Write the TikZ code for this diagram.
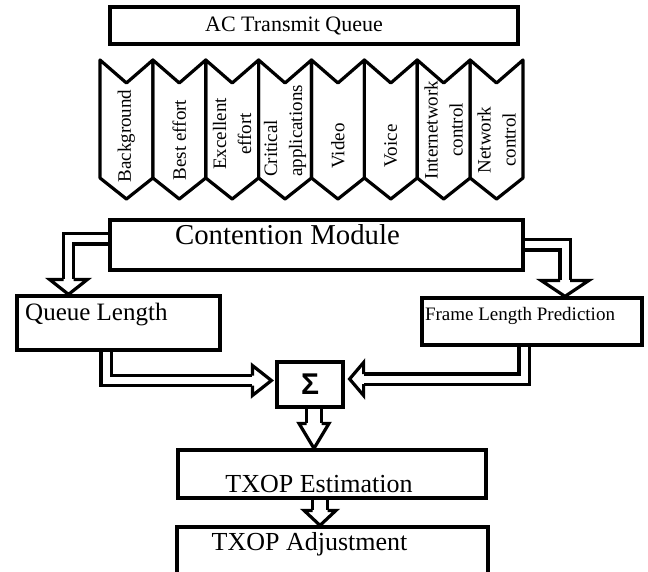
\documentclass[tikz,border=0pt]{standalone}
\usepackage{fontspec}
\setmainfont{Liberation Serif}
\setsansfont{Liberation Sans}
\usetikzlibrary{backgrounds}
\tikzset{
  box/.style={draw, fill=white, line width=3.2pt, line join=miter, inner sep=0pt},
  txt/.style={font=\fontsize{#1}{#1}\selectfont, inner sep=0pt},
  coltxt/.style={font=\fontsize{19}{25}\selectfont, inner sep=0pt, rotate=90},
  shaft/.style={draw, line width=3.2pt, double=white, double distance=#1, line join=miter},
  pics/hhead/.style n args={3}{code={
    \filldraw[fill=white, draw=black, line width=3.2pt, line join=miter]
      (-#1,#3) -- (-#1,#2) -- (0,0) -- (-#1,-#2) -- (-#1,-#3);}}
}
\begin{document}
\begin{tikzpicture}[x=1pt, y=1pt, line join=round, line cap=butt]
    \useasboundingbox (0,0) rectangle (648,-572);
    \def\cx{100} \def\cw{52.875}
    % top queue
    \node[box, minimum width=408, minimum height=37] (acq) at (314,-25.5) {};
    \node[txt=22, anchor=base] (acqtext) at (294,-32) {AC Transmit Queue};
    % access categories
    \foreach \i in {0,...,7}
      \draw[line width=3.2pt] ({\cx+\i*\cw},-60) -- ({\cx+(\i+0.5)*\cw},-83) -- ({\cx+(\i+1)*\cw},-60)
        -- ({\cx+(\i+1)*\cw},-178) -- ({\cx+(\i+0.5)*\cw},-199) -- ({\cx+\i*\cw},-178) -- cycle;
    \foreach \i/\lbl/\yc/\al in {0/Background/136/center, 1/Best effort/140/center,
        2/{Excellent\\effort}/134/center, 3/{Critical\\applications}/131/left,
        4/Video/146/center, 5/Voice/146/center, 6/{Internetwork\\control}/130/center,
        7/{Network\\control}/140/center}
      \node[coltxt, align=\al] (ac\i) at ({\cx+(\i+0.5)*\cw},-\yc) {\lbl};
    % modules
    \node[box, minimum width=413, minimum height=50] (cm) at (316.5,-245) {};
    \node[txt=28.8, anchor=base] (cmtext) at (287.5,-245) {Contention Module};
    \node[box, minimum width=203, minimum height=54] (ql) at (118.5,-323) {};
    \node[txt=25, anchor=base west] (qltext) at (25,-320) {Queue Length};
    \node[box, minimum width=220, minimum height=47] (flp) at (532,-321.5) {};
    \node[txt=19, anchor=base] (flptext) at (520,-320) {Frame Length Prediction};
    \node[box, minimum width=66, minimum height=45, font=\sffamily\bfseries\fontsize{30}{30}\selectfont] (sig) at (310,-384.5) {Σ};
    \node[box, minimum width=308, minimum height=48] (est) at (332,-474) {};
    \node[txt=26, anchor=base] (esttext) at (319,-492) {TXOP Estimation};
    \node[box, minimum width=311, minimum height=48] (adj) at (332.5,-551) {};
    \node[txt=26, anchor=base] (adjtext) at (309.5,-550) {TXOP Adjustment};
    % hollow arrows
    \begin{scope}[on background layer]
      \draw[shaft=7pt, shorten >=15pt] ([yshift=6]cm.west) -| ([xshift=-50]ql.north);
      \path ([xshift=-50]ql.north) pic[rotate=-90] {hhead={15}{19}{5}};
      \draw[shaft=7pt, shorten >=16pt] (cm.east) -| ([xshift=33]flp.north);
      \path ([xshift=33]flp.north) pic[rotate=-90] {hhead={16}{24}{5}};
      \draw[shaft=7pt, shorten >=19pt] ([xshift=-12.5]ql.south) |- ([xshift=-4,yshift=4]sig.west);
      \path ([xshift=-4,yshift=4]sig.west) pic {hhead={19}{15}{5}};
      \draw[shaft=7pt, shorten >=14pt] ([xshift=-8]flp.south) |- ([xshift=5,yshift=5.5]sig.east);
      \path ([xshift=5,yshift=5.5]sig.east) pic[rotate=180] {hhead={14}{16.5}{5}};
      \draw[shaft=12pt, shorten >=25pt] ([xshift=4]sig.south) -- ([xshift=-18]est.north);
      \path ([xshift=-18]est.north) pic[rotate=-90] {hhead={25}{15}{7.5}};
      \draw[shaft=12pt, shorten >=15pt] ([xshift=-12]est.south) -- ([xshift=-12.5]adj.north);
      \path ([xshift=-12.5]adj.north) pic[rotate=-90] {hhead={15}{16}{7.5}};
    \end{scope}
\end{tikzpicture}
\end{document}
